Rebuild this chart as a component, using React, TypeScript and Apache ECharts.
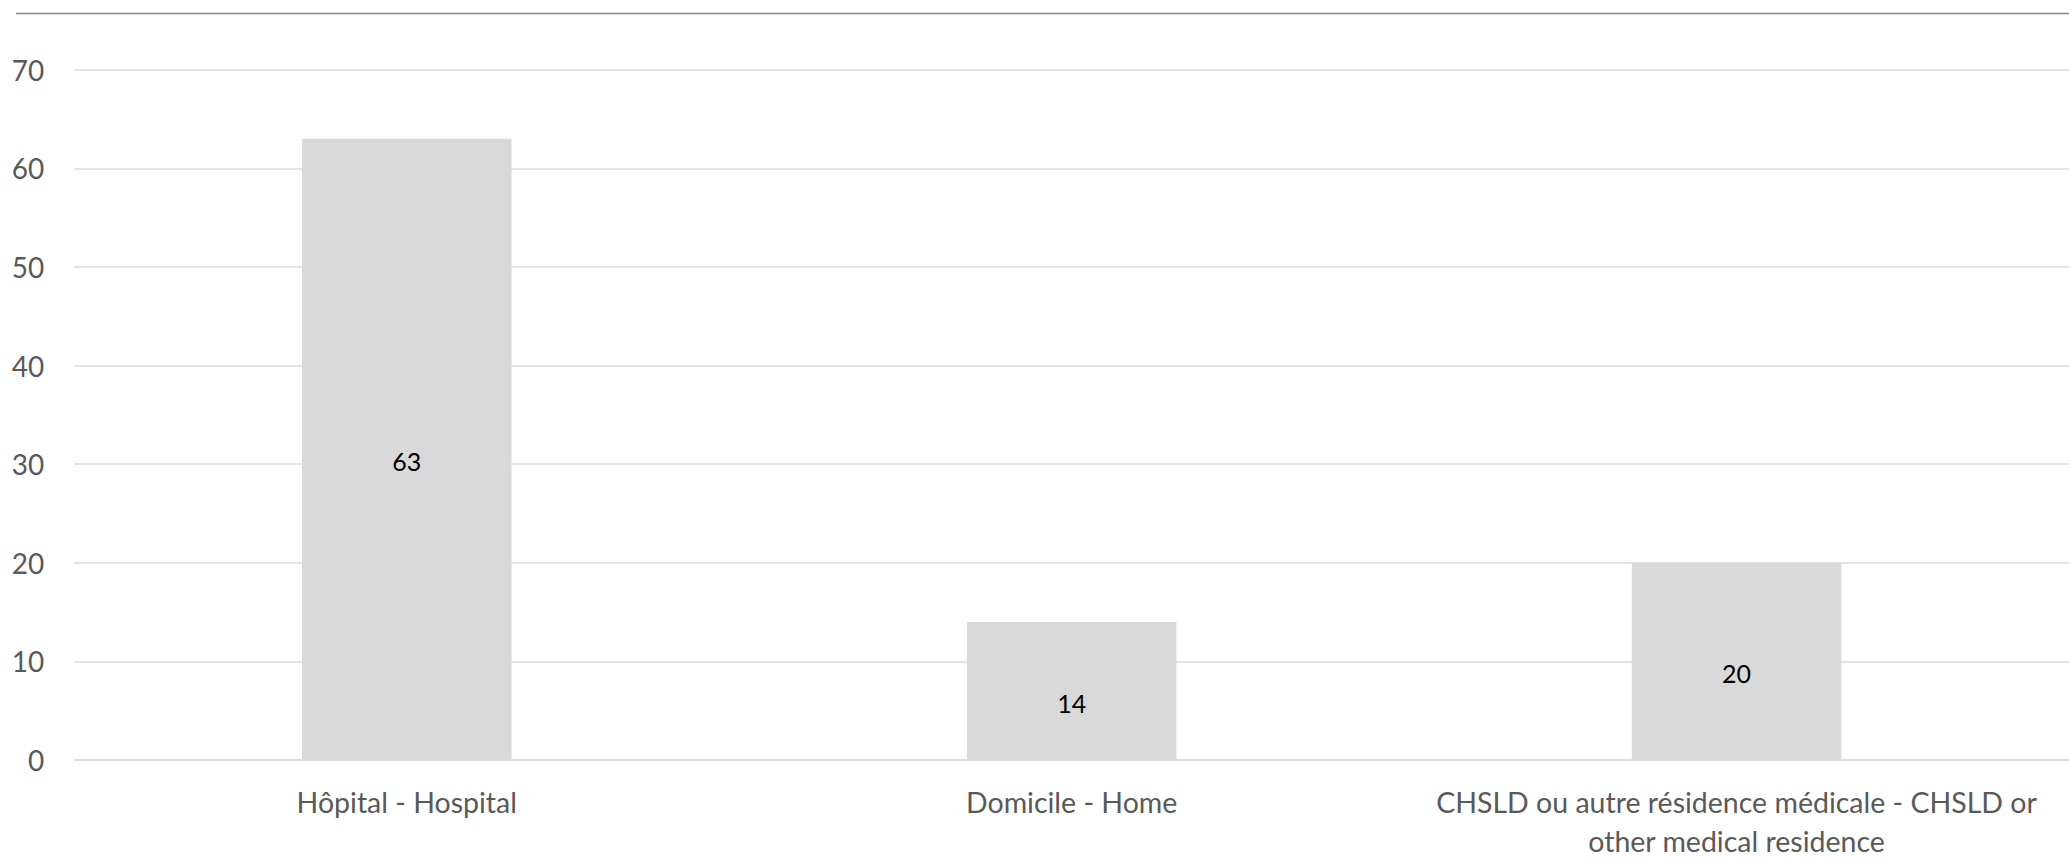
import React, { useEffect, useRef } from "react";
import * as echarts from "echarts";

const categories = [
  "Hôpital - Hospital",
  "Domicile - Home",
  "CHSLD ou autre résidence médicale - CHSLD or\nother medical residence",
];
const values = [63, 14, 20];
const yTicks = { min: 0, max: 70, interval: 10 };

const FONT = "Lato, 'Open Sans', sans-serif";

export default function App() {
  const ref = useRef<HTMLDivElement>(null);
  useEffect(() => {
    if (!ref.current) return;
    const chart = echarts.init(ref.current, undefined, { renderer: "svg" });
    chart.setOption({
      animation: false,
      backgroundColor: "#ffffff",
      textStyle: { fontFamily: FONT },
      grid: { left: 74.3, top: 69.7, bottom: 94.5, width: 2004, containLabel: false },
      graphic: [
        {
          type: "line",
          shape: { x1: 16, y1: 13.5, x2: 2069, y2: 13.5 },
          style: { stroke: "#898989", lineWidth: 1.6 },
          silent: true,
        },
      ],
      xAxis: {
        type: "category",
        data: categories,
        axisLine: { show: true, lineStyle: { color: "#D9D9D9", width: 1.5 } },
        axisTick: { show: false },
        axisLabel: {
          color: "#595959",
          fontSize: 28.5,
          fontFamily: FONT,
          margin: 22,
          lineHeight: 39,
          interval: 0,
          align: "center",
        },
      },
      yAxis: {
        type: "value",
        min: yTicks.min,
        max: yTicks.max,
        interval: yTicks.interval,
        axisLine: { show: false },
        axisTick: { show: false },
        splitLine: { lineStyle: { color: "#D9D9D9", width: 1.5 } },
        axisLabel: {
          color: "#595959",
          fontSize: 28,
          fontFamily: FONT,
          margin: 30,
        },
      },
      series: [
        {
          type: "bar",
          data: values,
          barWidth: 209.5,
          itemStyle: { color: "#D9D9D9" },
          label: {
            show: true,
            position: "inside",
            offset: [0, 12],
            color: "#000000",
            fontSize: 25,
            fontFamily: FONT,
          },
        },
      ],
    });
    return () => chart.dispose();
  }, []);
  return (
    <div
      ref={ref}
      style={{ position: "fixed", left: 0, top: 0, width: 2069, height: 860, background: "#fff" }}
    />
  );
}
